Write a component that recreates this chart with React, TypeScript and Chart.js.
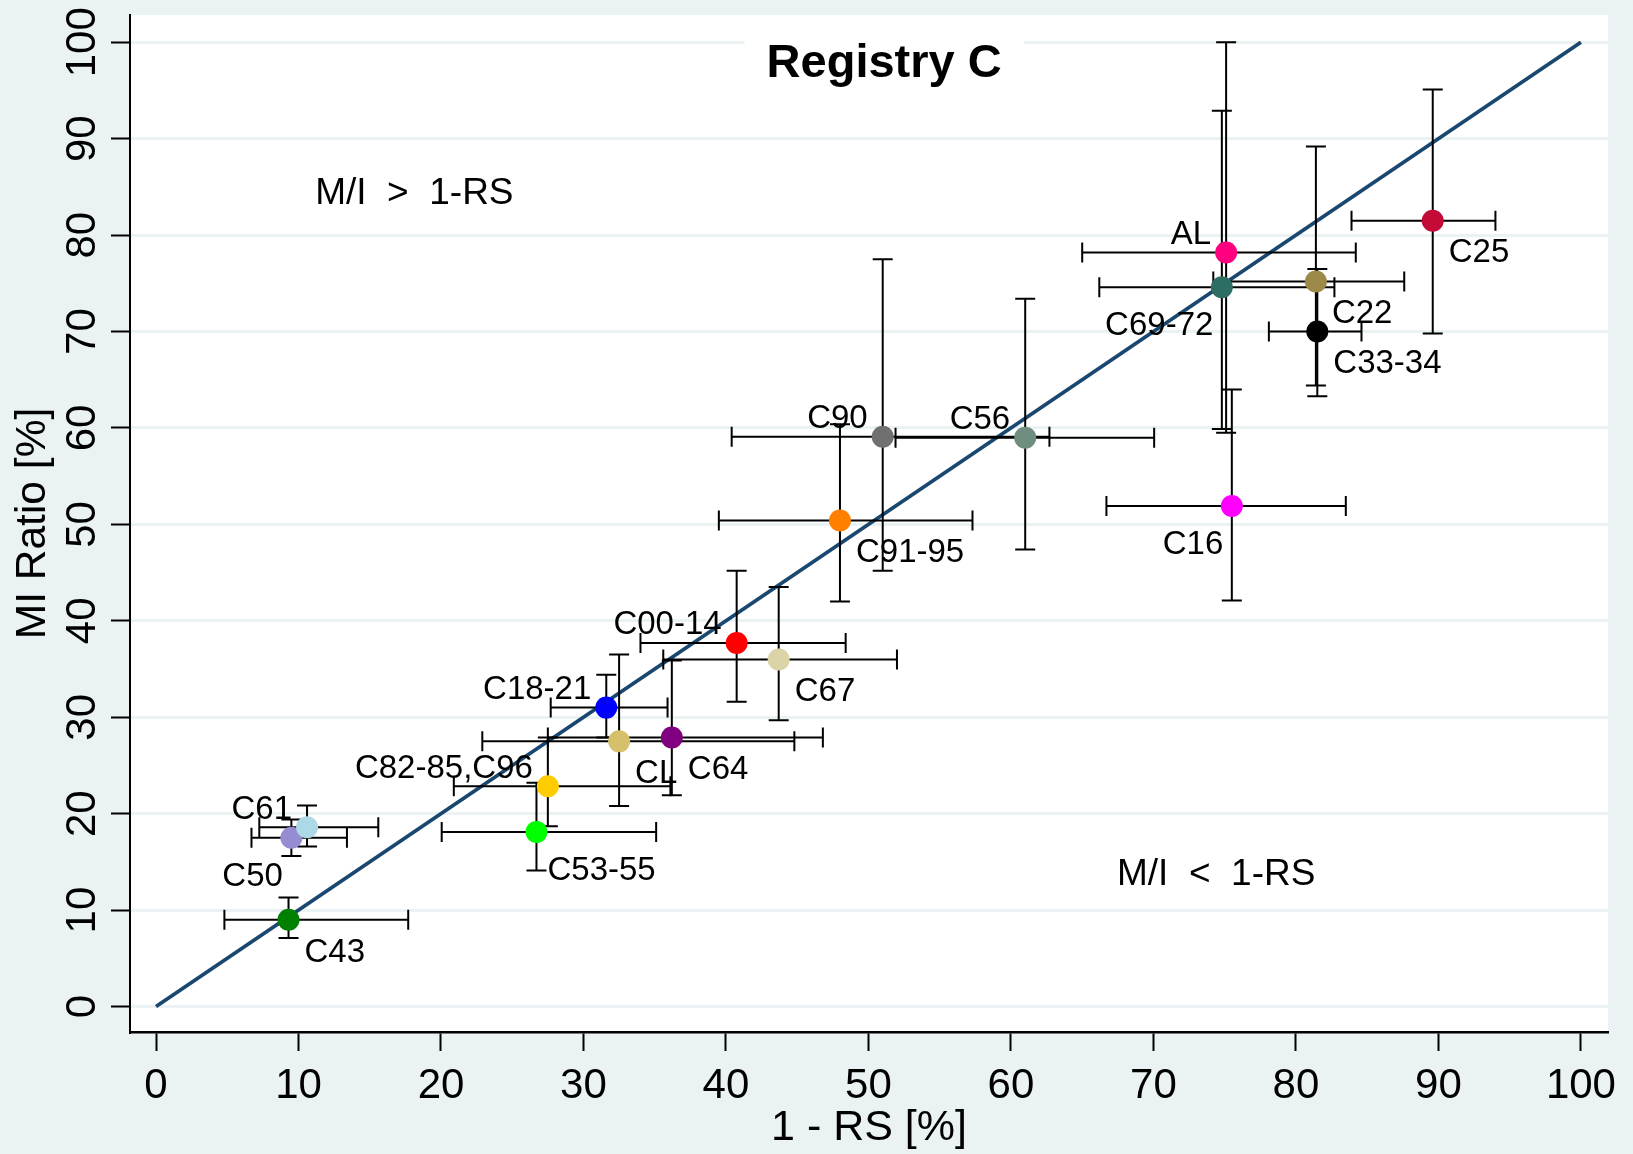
import React, { useEffect, useRef } from 'react';
import { Chart, registerables } from 'chart.js';

Chart.register(...registerables);

const FONT = '"Liberation Sans", Arial, Helvetica, sans-serif';

// ---- data ----
const categories = ['C43', 'C50', 'C61', 'C53-55', 'C82-85,C96', 'CL', 'C64', 'C18-21', 'C00-14', 'C67', 'C91-95', 'C90', 'C56', 'C16', 'AL', 'C69-72', 'C22', 'C33-34', 'C25'];
const xValues = [9.3, 9.5, 10.6, 26.7, 27.5, 32.5, 36.2, 31.6, 40.75, 43.7, 48.0, 51.0, 61.0, 75.5, 75.1, 74.8, 81.4, 81.5, 89.6];
const yValues = [9.0, 17.5, 18.6, 18.1, 22.85, 27.5, 27.9, 31.0, 37.7, 36.0, 50.4, 59.1, 59.0, 51.9, 78.2, 74.6, 75.2, 70.0, 81.5];
const xLow = [4.8, 6.7, 7.25, 20.05, 20.9, 22.9, 27.5, 27.7, 34.0, 35.6, 39.5, 40.4, 51.9, 66.7, 65.0, 66.2, 74.2, 78.1, 83.9];
const xHigh = [17.7, 13.4, 15.6, 35.1, 36.1, 44.8, 46.8, 35.9, 48.4, 52.0, 57.3, 62.7, 70.05, 83.5, 84.2, 82.7, 87.6, 84.6, 94.0];
const yLow = [7.1, 15.6, 16.6, 14.1, 18.7, 20.8, 21.9, 27.9, 31.6, 29.7, 42.0, 45.2, 47.4, 42.1, 59.5, 59.9, 64.4, 63.3, 69.8];
const yHigh = [11.3, 19.4, 20.85, 23.2, 27.9, 36.5, 35.9, 34.4, 45.2, 43.5, 60.4, 77.5, 73.4, 64.0, 100.0, 92.9, 89.2, 76.5, 95.1];

const diagonalX = [0, 100];
const diagonalY = [0, 100];

const xTickValues = [0, 10, 20, 30, 40, 50, 60, 70, 80, 90, 100];
const yTickValues = [0, 10, 20, 30, 40, 50, 60, 70, 80, 90, 100];

const titleText = 'Registry C';
const xTitle = '1 - RS [%]';
const yTitle = 'MI Ratio [%]';
const noteTexts = ['M/I  >  1-RS', 'M/I  <  1-RS'];
const noteX = [18.13, 74.4];
const noteY = [84.65, 14.0];

// ---- styles ----
const pointColors = ['#008000', '#968CD2', '#ADD8E6', '#00FF00', '#FFCC00', '#D7C06C', '#800080', '#0000FF', '#FF0000', '#DAD4A6', '#FF8000', '#707070', '#6F8E80', '#FF00FF', '#FF0080', '#2D6E63', '#9C8A48', '#000000', '#C40A36'];
const labelClock = ['4', '7', '10', '5', '10', '4', '4', '10', '10', '4', '4', '10', '10', '7', '10', '7', '4', '4', '4'];
const clockOffsets: Record<string, { align: CanvasTextAlign; dx: number; dy: number }> = {
  '10': { align: 'right', dx: -15, dy: -20.5 },
  '4': { align: 'left', dx: 16, dy: 30 },
  '7': { align: 'right', dx: -8.5, dy: 36 },
  '5': { align: 'left', dx: 11, dy: 36 },
};
const BG = '#EAF2F3';
const LINE_COLOR = '#1A476F';
const CAP = 10;

export default function App() {
  const ref = useRef<HTMLCanvasElement>(null);

  useEffect(() => {
    const canvas = ref.current;
    if (!canvas) return;

    const bgPlugin = {
      id: 'bgPlugin',
      beforeDraw(chart: any) {
        const { ctx, chartArea } = chart;
        ctx.save();
        ctx.fillStyle = BG;
        ctx.fillRect(0, 0, chart.width, chart.height);
        ctx.fillStyle = '#FFFFFF';
        ctx.fillRect(chartArea.left, chartArea.top, chartArea.right - chartArea.left, chartArea.bottom - chartArea.top);
        ctx.restore();
      },
      beforeDatasetsDraw(chart: any) {
        const { ctx, scales } = chart;
        const cx = scales.x.getPixelForValue(51.1);
        ctx.save();
        ctx.font = `bold 47px ${FONT}`;
        const w = ctx.measureText(titleText).width;
        ctx.fillStyle = '#FFFFFF';
        ctx.fillRect(cx - w / 2 - 22, 22, w + 44, 64);
        ctx.fillStyle = '#000000';
        ctx.textAlign = 'center';
        ctx.textBaseline = 'alphabetic';
        ctx.fillText(titleText, cx, 77.3);
        ctx.restore();
      },
    };

    const errorBarPlugin = {
      id: 'errorBars',
      afterDatasetDraw(chart: any, args: any) {
        if (args.index !== 0) return;
        const { ctx, scales } = chart;
        const sx = scales.x;
        const sy = scales.y;
        ctx.save();
        ctx.strokeStyle = '#000000';
        ctx.lineWidth = 2;
        ctx.lineCap = 'butt';
        categories.forEach((_, i) => {
          const px = sx.getPixelForValue(xValues[i]);
          const py = sy.getPixelForValue(yValues[i]);
          const xl = sx.getPixelForValue(xLow[i]);
          const xh = sx.getPixelForValue(xHigh[i]);
          const yl = sy.getPixelForValue(yLow[i]);
          const yh = sy.getPixelForValue(yHigh[i]);
          ctx.beginPath();
          ctx.moveTo(xl, py); ctx.lineTo(xh, py);
          ctx.moveTo(xl, py - CAP); ctx.lineTo(xl, py + CAP);
          ctx.moveTo(xh, py - CAP); ctx.lineTo(xh, py + CAP);
          ctx.moveTo(px, yl); ctx.lineTo(px, yh);
          ctx.moveTo(px - CAP, yl); ctx.lineTo(px + CAP, yl);
          ctx.moveTo(px - CAP, yh); ctx.lineTo(px + CAP, yh);
          ctx.stroke();
        });
        ctx.restore();
      },
    };

    const labelPlugin = {
      id: 'markerLabels',
      afterDatasetsDraw(chart: any) {
        const { ctx, scales } = chart;
        const sx = scales.x;
        const sy = scales.y;
        ctx.save();
        ctx.fillStyle = '#000000';
        ctx.textBaseline = 'alphabetic';
        ctx.font = `33px ${FONT}`;
        categories.forEach((name, i) => {
          const o = clockOffsets[labelClock[i]];
          const px = sx.getPixelForValue(xValues[i]);
          const py = sy.getPixelForValue(yValues[i]);
          ctx.textAlign = o.align;
          ctx.fillText(name, px + o.dx, py + o.dy + 0.358 * 33);
        });
        ctx.font = `37px ${FONT}`;
        ctx.textAlign = 'center';
        noteTexts.forEach((t, i) => {
          const px = sx.getPixelForValue(noteX[i]);
          const py = sy.getPixelForValue(noteY[i]);
          ctx.fillText(t, px, py + 0.358 * 37);
        });
        ctx.restore();
      },
    };

    const chart = new Chart(canvas, {
      type: 'scatter',
      data: {
        datasets: [
          {
            type: 'line',
            data: diagonalX.map((v, i) => ({ x: v, y: diagonalY[i] })),
            borderColor: LINE_COLOR,
            borderWidth: 3.8,
            pointRadius: 0,
            fill: false,
            tension: 0,
            order: 2,
          } as any,
          {
            type: 'scatter',
            data: categories.map((_, i) => ({ x: xValues[i], y: yValues[i] })),
            backgroundColor: pointColors,
            pointRadius: 11,
            pointHoverRadius: 11,
            borderWidth: 0,
            order: 1,
          } as any,
        ],
      },
      options: {
        responsive: false,
        animation: false,
        devicePixelRatio: 1,
        events: [],
        layout: { padding: { top: 15, right: 25, left: 0, bottom: 0 } },
        plugins: {
          legend: { display: false },
          tooltip: { enabled: false },
          title: { display: false },
        },
        scales: {
          x: {
            type: 'linear',
            min: -1.825,
            max: 101.9,
            afterBuildTicks: (s: any) => {
              s.ticks = xTickValues.map((v) => ({ value: v }));
            },
            afterFit: (s: any) => {
              s.height = 122;
            },
            grid: {
              drawOnChartArea: false,
              drawTicks: true,
              tickLength: 19,
              tickColor: '#000000',
              tickWidth: 2,
            },
            border: { display: true, color: '#000000', width: 2.5 },
            ticks: {
              font: { family: FONT, size: 42, lineHeight: 1 },
              color: '#000000',
              padding: 14.7,
              maxRotation: 0,
              minRotation: 0,
              autoSkip: false,
            },
            title: {
              display: true,
              text: xTitle,
              color: '#000000',
              font: { family: FONT, size: 43, lineHeight: 1 },
              padding: { top: 0, bottom: 4.2 },
            },
          },
          y: {
            type: 'linear',
            min: -2.64,
            max: 102.83,
            afterBuildTicks: (s: any) => {
              s.ticks = yTickValues.map((v) => ({ value: v }));
            },
            afterFit: (s: any) => {
              s.width = 130;
            },
            grid: {
              color: BG,
              lineWidth: 3,
              drawTicks: true,
              tickLength: 19,
              tickColor: '#000000',
              tickWidth: 2,
            },
            border: { display: true, color: '#000000', width: 2 },
            ticks: {
              font: { family: FONT, size: 42, lineHeight: 1 },
              color: '#000000',
              padding: -7.4,
              minRotation: 90,
              maxRotation: 90,
              crossAlign: 'center',
              autoSkip: false,
            },
            title: {
              display: true,
              text: yTitle,
              color: '#000000',
              font: { family: FONT, size: 42.5, lineHeight: 1 },
              padding: { top: 12.2, bottom: 0 },
            },
          },
        },
      } as any,
      plugins: [bgPlugin, errorBarPlugin, labelPlugin],
    });

    return () => {
      chart.destroy();
    };
  }, []);

  return (
    <div style={{ position: 'fixed', left: 0, top: 0, width: 1633, height: 1154 }}>
      <canvas ref={ref} width={1633} height={1154} style={{ display: 'block', width: 1633, height: 1154 }} />
    </div>
  );
}
